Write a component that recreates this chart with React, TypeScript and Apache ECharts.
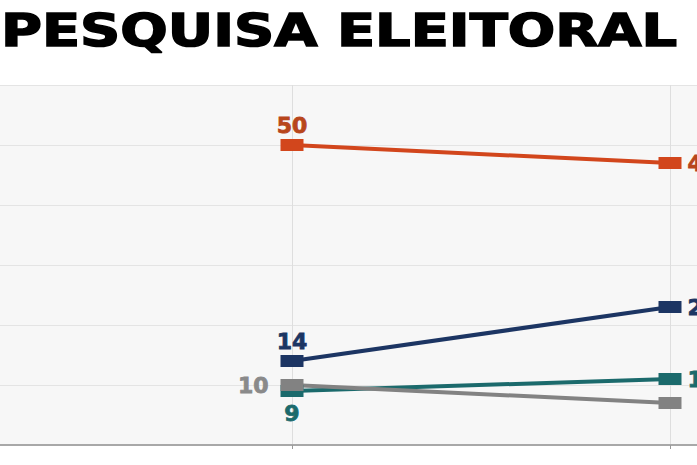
import React, { useEffect, useRef } from "react";
import * as echarts from "echarts";

const categories = ["", "Pesquisa 1", "Pesquisa 2", ""];
const seriesNames = ["Candidato A", "Candidato B", "Candidato C", "Candidato D"];
const orangeValues = [null, 50, 47, null];
const blueValues = [null, 14, 23, null];
const grayValues = [null, 10, 7, null];
const tealValues = [null, 9, 11, null];
const yTicks = [0, 10, 20, 30, 40, 50, 60];
const titleText = "PESQUISA ELEITORAL";

const OFFSET = 86;
const CHART_W = 1134;

function mk(
  name: string,
  values: (number | null)[],
  color: string,
  labelColor: string,
  firstPos: string,
  firstDist: number,
  showLast: boolean
) {
  return {
    name,
    type: "line",
    data: values.map((v, i) => ({
      value: v,
      label: {
        show: v !== null && (i === 1 || showLast),
        position: i === 1 ? firstPos : "right",
        distance: i === 1 ? firstDist : 6,
        color: labelColor,
        fontFamily: "DejaVu Sans",
        fontWeight: "bold",
        fontSize: 22,
        textBorderColor: labelColor,
        textBorderWidth: 0.8,
      },
    })),
    symbol: "rect",
    symbolSize: [23, 12],
    showAllSymbol: true,
    itemStyle: { color },
    lineStyle: { color, width: 4 },
    connectNulls: false,
  };
}

export default function App() {
  const ref = useRef<HTMLDivElement>(null);
  useEffect(() => {
    const chart = echarts.init(ref.current!, undefined, { renderer: "svg" });
    chart.setOption({
      animation: false,
      backgroundColor: "#ffffff",
      grid: {
        left: 0,
        right: 0,
        top: 85,
        bottom: 20,
        show: true,
        backgroundColor: "#f7f7f7",
        borderWidth: 0,
      },
      xAxis: {
        type: "category",
        data: categories,
        boundaryGap: false,
        axisLine: { lineStyle: { color: "#a8a8a8", width: 2 } },
        axisTick: { show: true, length: 4, lineStyle: { color: "#999" } },
        axisLabel: { show: false },
        splitLine: { show: true, lineStyle: { color: "#dedede", width: 1 } },
      },
      yAxis: {
        type: "value",
        min: yTicks[0],
        max: yTicks[yTicks.length - 1],
        interval: 10,
        axisLine: { show: false },
        axisTick: { show: false },
        axisLabel: { show: false },
        splitLine: { lineStyle: { color: "#e4e4e4", width: 1 } },
      },
      series: [
        mk(seriesNames[0], orangeValues, "#d2461c", "#b8461c", "top", 3, true),
        mk(seriesNames[1], blueValues, "#1c3563", "#1c3563", "top", 3, true),
        mk(seriesNames[3], tealValues, "#1b6a6c", "#1b6a6c", "bottom", 5, true),
        mk(seriesNames[2], grayValues, "#828282", "#8a8a8a", "left", 12, false),
      ],
      graphic: [
        {
          type: "text",
          x: OFFSET + 1,
          y: 31,
          scaleX: 1.27,
          style: {
            text: titleText,
            fill: "#000",
            stroke: "#000",
            lineWidth: 1.5,
            font: "bold 44px 'DejaVu Sans'",
            textAlign: "left",
            textVerticalAlign: "middle",
          },
        },
      ],
    });
    return () => chart.dispose();
  }, []);
  return (
    <div style={{ position: "fixed", left: 0, top: 0, width: 697, height: 465, overflow: "hidden", background: "#fff" }}>
      <div ref={ref} style={{ position: "absolute", left: -OFFSET, top: 0, width: CHART_W, height: 465 }} />
    </div>
  );
}
